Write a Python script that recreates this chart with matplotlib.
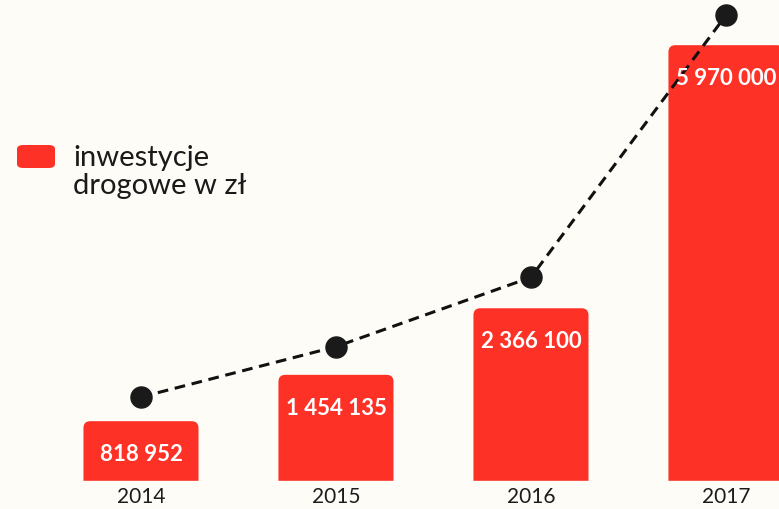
import matplotlib.pyplot as plt
from matplotlib.patches import FancyBboxPatch

years = ["2014", "2015", "2016", "2017"]
investments = [818952, 1454135, 2366100, 5970000]
value_labels = ["818 952", "1 454 135", "2 366 100", "5 970 000"]
# trend dots sit a little above the bars (in zł)
trend = [1150000, 1840000, 2790000, 6380000]

bg = "#fdfcf6"
red = "#fe3127"

plt.rcParams["font.family"] = ["Lato", "DejaVu Sans"]

fig = plt.figure(figsize=(7.79, 5.09), dpi=100)
fig.patch.set_facecolor(bg)
ax = fig.add_axes([0, 0, 1, 1])
ax.set_facecolor(bg)
ax.set_xlim(-0.723, 3.272)
ax.set_ylim(-0.384e6, 6.589e6)
ax.axis("off")

xs = list(range(len(years)))
bars = ax.bar(xs, investments, width=0.59, color=red)

# swap plain bars for ones with rounded tops
aspect = (6.973e6 / 509) / (3.995 / 779)
for b in bars:
    x0 = b.get_x()
    w = b.get_width()
    h = b.get_height()
    p = FancyBboxPatch((x0, -0.2e6), w, h + 0.2e6,
                       boxstyle="round,pad=0,rounding_size=0.035",
                       mutation_aspect=aspect, fc=red, ec="none", zorder=2)
    ax.add_patch(p)
    b.remove()
ax.axhspan(-1e6, 0, color=bg, zorder=3)

for x, v, lab in zip(xs, investments, value_labels):
    ax.annotate(lab, (x, v), xytext=(0, -24), textcoords="offset points",
                ha="center", va="center", color="white", fontsize=16,
                fontweight="bold", zorder=5)

for x, y in zip(xs, years):
    ax.text(x, -0.22e6, y, ha="center", va="center", fontsize=15,
            color="#1c1c1c", zorder=5)

ax.plot(xs, trend, ls=(0, (3.5, 2.2)), color="#111111", lw=2.2, zorder=4)
ax.scatter(xs, trend, s=230, color="#1a1a1a", zorder=5)

# legend
fig.patches.append(FancyBboxPatch((17 / 779, 1 - 168 / 509), 38 / 779, 23 / 509,
                                  boxstyle="round,pad=0,rounding_size=0.008",
                                  transform=fig.transFigure, fc=red, ec="none",
                                  figure=fig))
fig.text(73 / 779, 1 - 172 / 509, "inwestycje\ndrogowe w zł", fontsize=21,
         color="#1a1a1a", va="center", ha="left", linespacing=1.05)

fig.savefig("out.png", dpi=100, facecolor=bg)
